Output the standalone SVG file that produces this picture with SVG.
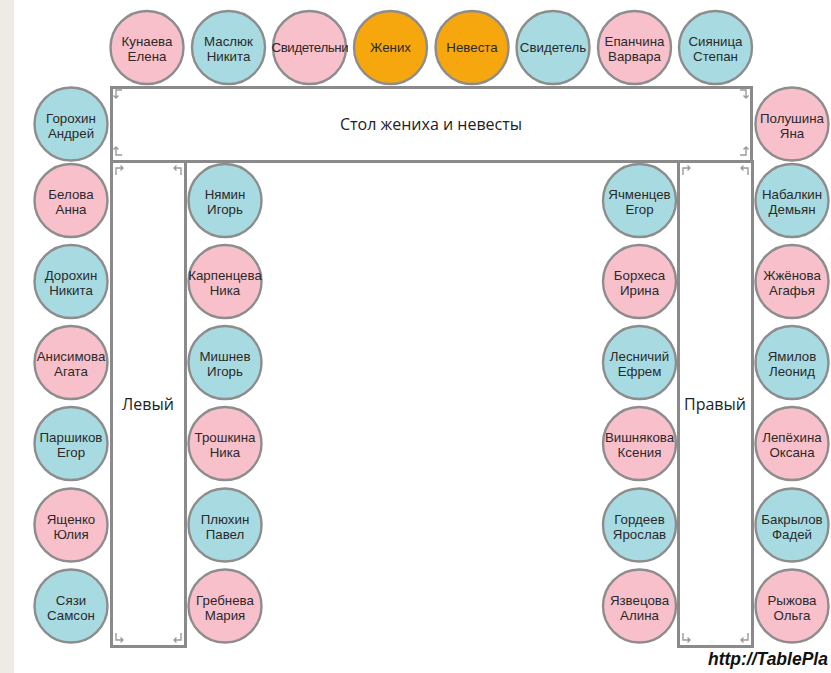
<svg xmlns="http://www.w3.org/2000/svg" width="831" height="673" viewBox="0 0 831 673">
<style>
.seat circle{stroke:#8d8d8d;stroke-width:2.4}
.p{fill:#f8c0cb}
.b{fill:#a8dbe1}
.o{fill:#f6a70d}
.seat text{font-family:"Liberation Sans",Arial,sans-serif;font-size:13.3px;fill:#2a2a2a;text-anchor:middle}
.tbl rect{fill:#fff;stroke:#8a8a8a;stroke-width:3}
.tbl text{font-family:"Open Sans","DejaVu Sans",sans-serif;font-size:16px;fill:#222;text-anchor:middle}
.ic{fill:none;stroke:#9a9a9a;stroke-width:1.4}
</style>
<defs>
<clipPath id="c3"><rect x="271" y="0" width="77" height="100"/></clipPath>
</defs>
<rect width="831" height="673" fill="#fff"/>
<rect x="0" y="0" width="14" height="673" fill="#eeebe6"/>

<g id="table-head" class="tbl">
<rect x="111.5" y="87.5" width="640" height="74"/>
<text x="431" y="130">Стол жениха и невесты</text>
<path class="ic" d="M122,90 H116 V98 M113.5,95.5 L116,98 L118.5,95.5"/>
<path class="ic" d="M116,147 V155 H122 M113.5,149.5 L116,147 L118.5,149.5"/>
<path class="ic" d="M740,90 H746 V98 M743.5,95.5 L746,98 L748.5,95.5"/>
<path class="ic" d="M746,147 V155 H740 M743.5,149.5 L746,147 L748.5,149.5"/>
</g>
<g id="table-left" class="tbl">
<rect x="111.5" y="161.5" width="74" height="485"/>
<text x="148" y="410">Левый</text>
<path class="ic" d="M116,175 V168 H123 M120.5,165.5 L123,168 L120.5,170.5"/>
<path class="ic" d="M181,175 V168 H174 M176.5,165.5 L174,168 L176.5,170.5"/>
<path class="ic" d="M116,633 V640 H123 M120.5,637.5 L123,640 L120.5,642.5"/>
<path class="ic" d="M181,633 V640 H174 M176.5,637.5 L174,640 L176.5,642.5"/>
</g>
<g id="table-right" class="tbl">
<rect x="678.5" y="161.5" width="74" height="485"/>
<text x="715" y="410">Правый</text>
<path class="ic" d="M683,175 V168 H690 M687.5,165.5 L690,168 L687.5,170.5"/>
<path class="ic" d="M748,175 V168 H741 M743.5,165.5 L741,168 L743.5,170.5"/>
<path class="ic" d="M683,633 V640 H690 M687.5,637.5 L690,640 L687.5,642.5"/>
<path class="ic" d="M748,633 V640 H741 M743.5,637.5 L741,640 L743.5,642.5"/>
</g>

<g id="seat-kunaeva" class="seat"><circle class="p" cx="147" cy="47.5" r="36.5"/><text x="147" y="46">Кунаева</text><text x="147" y="61">Елена</text></g>
<g id="seat-maslyuk" class="seat"><circle class="b" cx="228.5" cy="47.5" r="36.5"/><text x="228.5" y="46">Маслюк</text><text x="228.5" y="61">Никита</text></g>
<g id="seat-svidetelnitsa" class="seat"><circle class="p" cx="309.5" cy="47.5" r="36.5"/><text x="271.5" y="52" clip-path="url(#c3)" style="text-anchor:start;letter-spacing:-0.4px">Свидетельница</text></g>
<g id="seat-zhenikh" class="seat"><circle class="o" cx="390.5" cy="47.5" r="36.5"/><text x="390.5" y="52">Жених</text></g>
<g id="seat-nevesta" class="seat"><circle class="o" cx="472" cy="47.5" r="36.5"/><text x="472" y="52">Невеста</text></g>
<g id="seat-svidetel" class="seat"><circle class="b" cx="553" cy="47.5" r="36.5"/><text x="553" y="52">Свидетель</text></g>
<g id="seat-epanchina" class="seat"><circle class="p" cx="634.5" cy="47.5" r="36.5"/><text x="634.5" y="46">Епанчина</text><text x="634.5" y="61">Варвара</text></g>
<g id="seat-siyanitsa" class="seat"><circle class="b" cx="715.5" cy="47.5" r="36.5"/><text x="715.5" y="46">Сияница</text><text x="715.5" y="61">Степан</text></g>

<g id="seat-gorokhin" class="seat"><circle class="b" cx="71" cy="124" r="36.5"/><text x="71" y="122.5">Горохин</text><text x="71" y="137.5">Андрей</text></g>
<g id="seat-belova" class="seat"><circle class="p" cx="71" cy="200.5" r="36.5"/><text x="71" y="199">Белова</text><text x="71" y="214">Анна</text></g>
<g id="seat-dorokhin" class="seat"><circle class="b" cx="71" cy="281.5" r="36.5"/><text x="71" y="280">Дорохин</text><text x="71" y="295">Никита</text></g>
<g id="seat-anisimova" class="seat"><circle class="p" cx="71" cy="362.5" r="36.5"/><text x="71" y="361">Анисимова</text><text x="71" y="376">Агата</text></g>
<g id="seat-parshikov" class="seat"><circle class="b" cx="71" cy="443.5" r="36.5"/><text x="71" y="442">Паршиков</text><text x="71" y="457">Егор</text></g>
<g id="seat-yashchenko" class="seat"><circle class="p" cx="71" cy="525" r="36.5"/><text x="71" y="523.5">Ященко</text><text x="71" y="538.5">Юлия</text></g>
<g id="seat-syazi" class="seat"><circle class="b" cx="71" cy="606" r="36.5"/><text x="71" y="604.5">Сязи</text><text x="71" y="619.5">Самсон</text></g>

<g id="seat-nyamin" class="seat"><circle class="b" cx="225" cy="200.5" r="36.5"/><text x="225" y="199">Нямин</text><text x="225" y="214">Игорь</text></g>
<g id="seat-karpentseva" class="seat"><circle class="p" cx="225" cy="281.5" r="36.5"/><text x="225" y="280">Карпенцева</text><text x="225" y="295">Ника</text></g>
<g id="seat-mishnev" class="seat"><circle class="b" cx="225" cy="362.5" r="36.5"/><text x="225" y="361">Мишнев</text><text x="225" y="376">Игорь</text></g>
<g id="seat-troshkina" class="seat"><circle class="p" cx="225" cy="443.5" r="36.5"/><text x="225" y="442">Трошкина</text><text x="225" y="457">Ника</text></g>
<g id="seat-plyukhin" class="seat"><circle class="b" cx="225" cy="525" r="36.5"/><text x="225" y="523.5">Плюхин</text><text x="225" y="538.5">Павел</text></g>
<g id="seat-grebneva" class="seat"><circle class="p" cx="225" cy="606" r="36.5"/><text x="225" y="604.5">Гребнева</text><text x="225" y="619.5">Мария</text></g>

<g id="seat-yachmentsev" class="seat"><circle class="b" cx="639.5" cy="200.5" r="36.5"/><text x="639.5" y="199">Ячменцев</text><text x="639.5" y="214">Егор</text></g>
<g id="seat-borkhesa" class="seat"><circle class="p" cx="639.5" cy="281.5" r="36.5"/><text x="639.5" y="280">Борхеса</text><text x="639.5" y="295">Ирина</text></g>
<g id="seat-lesnichiy" class="seat"><circle class="b" cx="639.5" cy="362.5" r="36.5"/><text x="639.5" y="361">Лесничий</text><text x="639.5" y="376">Ефрем</text></g>
<g id="seat-vishnyakova" class="seat"><circle class="p" cx="639.5" cy="443.5" r="36.5"/><text x="639.5" y="442">Вишнякова</text><text x="639.5" y="457">Ксения</text></g>
<g id="seat-gordeev" class="seat"><circle class="b" cx="639.5" cy="525" r="36.5"/><text x="639.5" y="523.5">Гордеев</text><text x="639.5" y="538.5">Ярослав</text></g>
<g id="seat-yazvetsova" class="seat"><circle class="p" cx="639.5" cy="606" r="36.5"/><text x="639.5" y="604.5">Язвецова</text><text x="639.5" y="619.5">Алина</text></g>

<g id="seat-polushina" class="seat"><circle class="p" cx="792" cy="124" r="36.5"/><text x="792" y="122.5">Полушина</text><text x="792" y="137.5">Яна</text></g>
<g id="seat-nabalkin" class="seat"><circle class="b" cx="792" cy="200.5" r="36.5"/><text x="792" y="199">Набалкин</text><text x="792" y="214">Демьян</text></g>
<g id="seat-zhzhenova" class="seat"><circle class="p" cx="792" cy="281.5" r="36.5"/><text x="792" y="280">Жжёнова</text><text x="792" y="295">Агафья</text></g>
<g id="seat-yamilov" class="seat"><circle class="b" cx="792" cy="362.5" r="36.5"/><text x="792" y="361">Ямилов</text><text x="792" y="376">Леонид</text></g>
<g id="seat-lepekhina" class="seat"><circle class="p" cx="792" cy="443.5" r="36.5"/><text x="792" y="442">Лепёхина</text><text x="792" y="457">Оксана</text></g>
<g id="seat-bakrylov" class="seat"><circle class="b" cx="792" cy="525" r="36.5"/><text x="792" y="523.5">Бакрылов</text><text x="792" y="538.5">Фадей</text></g>
<g id="seat-ryzhova" class="seat"><circle class="p" cx="792" cy="606" r="36.5"/><text x="792" y="604.5">Рыжова</text><text x="792" y="619.5">Ольга</text></g>

<text x="708" y="665" font-family="'Liberation Sans',Arial,sans-serif" font-size="17.5" font-weight="bold" font-style="italic" fill="#111">http://TablePla</text>
</svg>
